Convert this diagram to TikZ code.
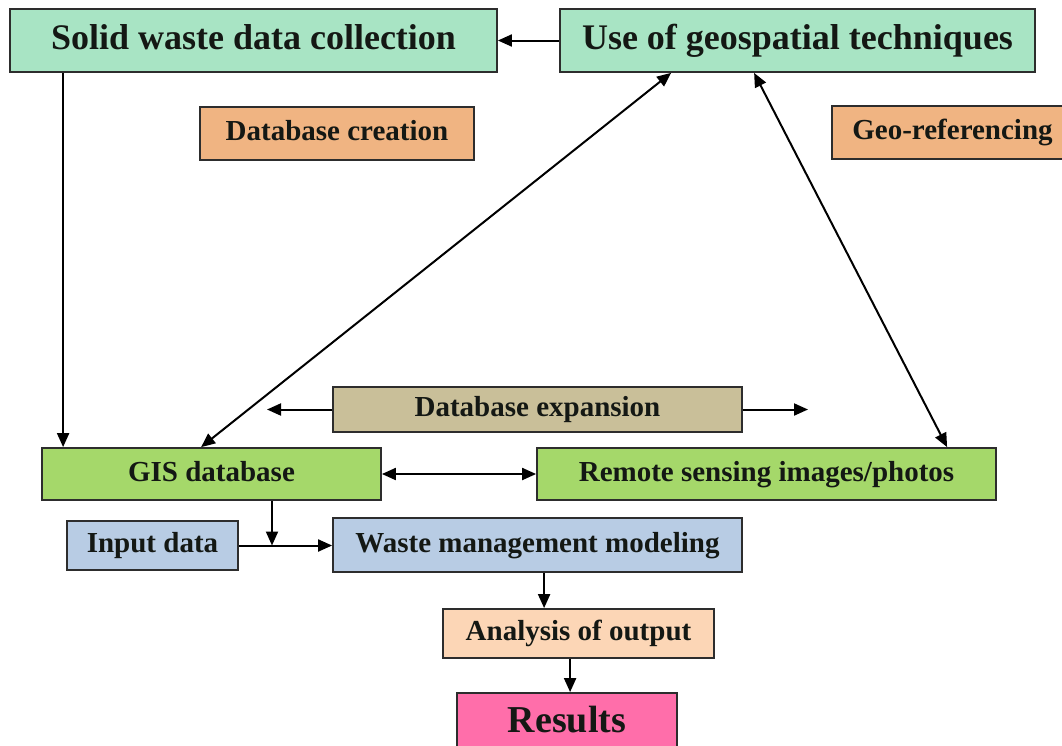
\documentclass[tikz,border=0pt]{standalone}
\usepackage{fontspec}
\setmainfont{Liberation Serif}
\usetikzlibrary{arrows.meta}

\definecolor{mint}{RGB}{168,228,196}
\definecolor{tan}{RGB}{240,180,130}
\definecolor{leaf}{RGB}{165,216,106}
\definecolor{khaki}{RGB}{201,191,153}
\definecolor{sky}{RGB}{184,204,228}
\definecolor{peach}{RGB}{252,214,182}
\definecolor{rose}{RGB}{255,110,170}
\definecolor{boxline}{RGB}{45,45,45}
\definecolor{txt}{RGB}{20,24,20}

\begin{document}
\begin{tikzpicture}[x=1pt,y=-1pt,
  box/.style={draw=boxline, line width=1.8pt, inner sep=0pt, text=txt,
    text height=20.9pt, text depth=6.4pt,
    font=\bfseries\fontsize{29}{32}\selectfont},
  big/.style={font=\bfseries\fontsize{36}{40}\selectfont,
    text height=25.9pt, text depth=7.9pt},
  huge/.style={font=\bfseries\fontsize{38}{42}\selectfont,
    text height=27.4pt, text depth=8.4pt},
  arr/.style={-{Triangle[length=14pt,width=12pt]}, line width=2pt, draw=black},
  darr/.style={{Triangle[length=14pt,width=12pt]}-{Triangle[length=14pt,width=12pt]}, line width=2pt, draw=black}]
\useasboundingbox (0,0) rectangle (1062,745);
\clip (0,0) rectangle (1062,745);
\fill[white] (0,0) rectangle (1062,745);

% top row
\node[box, big, fill=mint, minimum width=487pt, minimum height=63pt] (sw) at (253.5,40.5) {Solid waste data collection};
\node[box, big, fill=mint, minimum width=475pt, minimum height=63pt] (geo) at (797.5,40.5) {Use of geospatial techniques};

% labels under the top row
\node[box, fill=tan, minimum width=274pt, minimum height=53pt] (dbc) at (337,133.5) {Database creation};
\node[box, fill=tan, minimum width=241pt, minimum height=53pt] (gref) at (952.5,132.5) {Geo-referencing};

% middle
\node[box, fill=khaki, minimum width=409pt, minimum height=45pt] (dbe) at (537.5,409.5) {Database expansion};
\node[box, fill=leaf, minimum width=339pt, minimum height=52pt] (gis) at (211.5,474) {GIS database};
\node[box, fill=leaf, minimum width=459pt, minimum height=52pt] (rs) at (766.5,474) {Remote sensing images/photos};

% modelling chain
\node[box, fill=sky, minimum width=171pt, minimum height=49pt] (inp) at (152.5,545.5) {Input data};
\node[box, fill=sky, minimum width=409pt, minimum height=54pt] (wmm) at (537.5,545) {Waste management modeling};
\node[box, fill=peach, minimum width=271pt, minimum height=49pt] (ana) at (578.5,633.5) {Analysis of output};
\node[box, huge, fill=rose, minimum width=220pt, minimum height=59pt] (res) at (567,722.5) {Results};

% free ends and junction
\coordinate (dbeL) at (267,409.5);
\coordinate (dbeR) at (808,409.5);
\coordinate (j) at (272,545.5);

% connectors
\draw[arr] (geo.west) -- (sw.east);
\draw[arr] ([xshift=54pt]sw.south west) -- ([xshift=22pt]gis.north west);
\draw[darr] ([xshift=160pt]gis.north west) -- ([xshift=112pt]geo.south west);
\draw[darr] ([xshift=195pt]geo.south west) -- ([xshift=411pt]rs.north west);
\draw[arr] (dbe.west) -- (dbeL);
\draw[arr] (dbe.east) -- (dbeR);
\draw[darr] (gis.east) -- (rs.west);
\draw[arr] (gis.south west -| j) -- (j);
\draw[arr] (inp.east) -- (inp.east -| wmm.west);
\draw[arr] ([xshift=212pt]wmm.south west) -- ([xshift=102pt]ana.north west);
\draw[arr] ([xshift=128pt]ana.south west) -- ([xshift=114pt]res.north west);
\end{tikzpicture}
\end{document}
